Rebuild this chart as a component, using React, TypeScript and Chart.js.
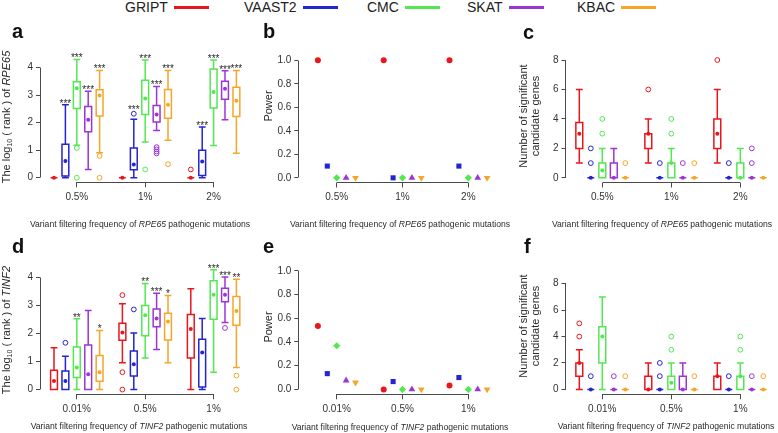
import React, { useEffect, useRef } from 'react';
import { Chart, registerables } from 'chart.js';

Chart.register(...registerables);

const FONT = '"Liberation Sans", Arial, Helvetica, sans-serif';
const AXIS_COLOR = '#4a4a4a';
const TEXT_COLOR = '#2a2a2a';

// ---------- categories / legend ----------
const METHODS = ['GRIPT', 'VAAST2', 'CMC', 'SKAT', 'KBAC'];
const COLORS = ['#e8161d', '#2424d0', '#52e852', '#9b35d6', '#f5a629'];
const RPE65_FREQS = ['0.5%', '1%', '2%'];
const TINF2_FREQS = ['0.01%', '0.5%', '1%'];

// ---------- tick labels ----------
const RANK_TICKS = [0, 1, 2, 3, 4];
const POWER_TICKS = [0, 0.2, 0.4, 0.6, 0.8, 1.0];
const COUNT_TICKS = [0, 2, 4, 6, 8];

// Box stats: [min whisker, Q1, median, Q3, max whisker] per frequency group
// ---------- Panel a: log10(rank) of RPE65 ----------
const aGRIPT = [[0, 0, 0, 0, 0], [0, 0, 0, 0, 0], [0, 0, 0, 0, 0]];
const aVAAST2 = [[0, 0.06, 0.61, 1.21, 2.65], [0, 0.29, 0.48, 1.08, 2.12], [0, 0.08, 0.59, 1.0, 1.84]];
const aCMC = [[1.18, 2.51, 3.25, 3.48, 4.29], [1.3, 2.29, 2.87, 3.54, 4.27], [1.17, 2.53, 3.11, 3.94, 4.27]];
const aSKAT = [[0.3, 1.67, 2.1, 2.58, 3.14], [1.71, 2.02, 2.29, 2.62, 3.31], [2.1, 2.85, 3.23, 3.5, 3.88]];
const aKBAC = [[0.91, 2.24, 2.98, 3.19, 3.89], [1.36, 2.16, 2.65, 3.2, 3.89], [0.89, 2.22, 2.79, 3.28, 3.89]];
const aOutGRIPT = [[], [], [0.3]];
const aOutVAAST2 = [[], [2.32], []];
const aOutCMC = [[1.08, 0], [0.3], []];
const aOutSKAT = [[], [1.11, 1.03, 0.95, 0.88], []];
const aOutKBAC = [[0.79, 0], [0.49], []];
const aStars = [
  ['', '***', '***', '***', '***'],
  ['', '***', '***', '***', '***'],
  ['', '***', '***', '***', '***'],
];

// ---------- Panel d: log10(rank) of TINF2 ----------
const dGRIPT = [[0, 0, 0.31, 0.69, 1.49], [0.96, 1.76, 2.04, 2.37, 3.06], [0, 1.13, 2.16, 2.68, 3.6]];
const dVAAST2 = [[0, 0, 0.31, 0.66, 1.19], [0, 0.48, 0.9, 1.38, 2.02], [0, 0.09, 1.32, 1.8, 2.54]];
const dCMC = [[0, 0.43, 0.79, 1.52, 2.53], [1.13, 1.92, 2.65, 3.0, 3.79], [0.62, 2.51, 3.38, 3.88, 4.28]];
const dSKAT = [[0, 0, 0.55, 1.59, 2.82], [1.43, 2.24, 2.54, 2.88, 3.44], [2.39, 3.13, 3.38, 3.62, 4.02]];
const dKBAC = [[0, 0.3, 0.62, 1.22, 2.11], [0.96, 1.77, 2.43, 2.72, 3.36], [0.79, 2.3, 2.8, 3.32, 3.94]];
const dOutGRIPT = [[], [3.37, 0.62, 0], []];
const dOutVAAST2 = [[1.67], [2.86], []];
const dOutCMC = [[], [], []];
const dOutSKAT = [[], [], [2.2]];
const dOutKBAC = [[], [], [0.5, 0]];
const dStars = [
  ['', '', '**', '', '*'],
  ['', '', '**', '***', '*'],
  ['', '', '***', '***', '**'],
];

// ---------- Panel c: number of significant candidate genes (RPE65) ----------
const cGRIPT = [[1, 2, 3, 3.75, 6], [1, 2, 3, 3, 4], [1, 2, 3, 4, 6]];
const cVAAST2 = [[0, 0, 0, 0, 0], [0, 0, 0, 0, 0], [0, 0, 0, 0, 0]];
const cCMC = [[0, 0, 0.5, 1, 2], [0, 0, 1, 1, 2], [0, 0, 0, 1, 2]];
const cSKAT = [[0, 0, 0, 1, 2], [0, 0, 0, 0, 0], [0, 0, 0, 0, 0]];
const cKBAC = [[0, 0, 0, 0, 0], [0, 0, 0, 0, 0], [0, 0, 0, 0, 0]];
const cOutGRIPT = [[], [6], [8]];
const cOutVAAST2 = [[1, 2], [1], [1]];
const cOutCMC = [[3, 4], [3, 4], []];
const cOutSKAT = [[], [1], [1, 2]];
const cOutKBAC = [[1], [1], []];

// ---------- Panel f: number of significant candidate genes (TINF2) ----------
const fGRIPT = [[0, 1, 2, 2, 3], [0, 0, 0, 1, 2], [0, 0, 1, 1, 2]];
const fVAAST2 = [[0, 0, 0, 0, 0], [0, 0, 0, 0, 0], [0, 0, 0, 0, 0]];
const fCMC = [[0, 2, 4, 4.75, 7], [0, 0, 0.5, 1, 2], [0, 0, 1, 1, 2]];
const fSKAT = [[0, 0, 0, 0, 0], [0, 0, 0, 1, 2], [0, 0, 0, 0, 0]];
const fKBAC = [[0, 0, 0, 0, 0], [0, 0, 0, 0, 0], [0, 0, 0, 0, 0]];
const fOutGRIPT = [[4, 5], [], []];
const fOutVAAST2 = [[1], [1, 2], [1]];
const fOutCMC = [[], [3, 4], [3, 4]];
const fOutSKAT = [[1], [], [1]];
const fOutKBAC = [[1], [1], [1]];

// ---------- Panels b / e: power (rows = methods, cols = frequency groups) ----------
const powerRPE65 = [
  [1.0, 1.0, 1.0],
  [0.1, 0.0, 0.1],
  [0.0, 0.0, 0.0],
  [0.0, 0.0, 0.0],
  [0.0, 0.0, 0.0],
];
const powerTINF2 = [
  [0.535, 0.0, 0.033],
  [0.133, 0.066, 0.1],
  [0.368, 0.0, 0.0],
  [0.075, 0.0, 0.0],
  [0.058, 0.0, 0.0],
];

// ---------- marker styles ----------
const SHAPES = ['circle', 'rect', 'rectRot', 'triangle', 'triangle'];
const ROTATIONS = [0, 0, 0, 0, 180];
const SHAPE_RADIUS = [3, 3.6, 3.6, 3.9, 3.9];

// ---------- panel layout (page pixels) ----------
const GEOM = {
  a: { cl: 0, ct: 40, cw: 252, ch: 172, yAxisX: 40, xAxisY: 182.3, areaTop: 45, areaRight: 248, zeroY: 177.6, unitY: 28.4, firstPx: 76.8, firstV: 2, unitX: 11.4 },
  d: { cl: 0, ct: 255, cw: 252, ch: 170, yAxisX: 40, xAxisY: 394.3, areaTop: 262, areaRight: 248, zeroY: 389.5, unitY: 28.45, firstPx: 76.8, firstV: 2, unitX: 11.4 },
  b: { cl: 255, ct: 40, cw: 250, ch: 172, yAxisX: 298.3, xAxisY: 182.5, areaTop: 45, areaRight: 500, zeroY: 177.7, unitY: 121, firstPx: 336.7, firstV: 3, unitX: 9.4 },
  e: { cl: 255, ct: 255, cw: 250, ch: 170, yAxisX: 298.3, xAxisY: 394.3, areaTop: 262, areaRight: 500, zeroY: 389.3, unitY: 120.3, firstPx: 336.7, firstV: 3, unitX: 9.4 },
  c: { cl: 512, ct: 40, cw: 266, ch: 172, yAxisX: 565.5, xAxisY: 182.5, areaTop: 45, areaRight: 774, zeroY: 177.7, unitY: 15.17, firstPx: 602.3, firstV: 2, unitX: 11.5 },
  f: { cl: 512, ct: 255, cw: 266, ch: 170, yAxisX: 565.5, xAxisY: 394.3, areaTop: 262, areaRight: 774, zeroY: 389.3, unitY: 13.41, firstPx: 602.3, firstV: 2, unitX: 11.5 },
};

const fmtInt = (v) => String(Math.round(v));
const fmt1 = (v) => Number(v).toFixed(1);

const PANELS = [
  { id: 'a', kind: 'box', span: 6, xTicks: [2, 8, 14], xLabels: RPE65_FREQS, yTicks: RANK_TICKS, yFmt: fmtInt,
    boxes: [aGRIPT, aVAAST2, aCMC, aSKAT, aKBAC], outliers: [aOutGRIPT, aOutVAAST2, aOutCMC, aOutSKAT, aOutKBAC], stars: aStars },
  { id: 'b', kind: 'power', span: 7, xTicks: [3, 10, 17], xLabels: RPE65_FREQS, yTicks: POWER_TICKS, yFmt: fmt1, power: powerRPE65 },
  { id: 'c', kind: 'box', span: 6, xTicks: [2, 8, 14], xLabels: RPE65_FREQS, yTicks: COUNT_TICKS, yFmt: fmtInt,
    boxes: [cGRIPT, cVAAST2, cCMC, cSKAT, cKBAC], outliers: [cOutGRIPT, cOutVAAST2, cOutCMC, cOutSKAT, cOutKBAC] },
  { id: 'd', kind: 'box', span: 6, xTicks: [2, 8, 14], xLabels: TINF2_FREQS, yTicks: RANK_TICKS, yFmt: fmtInt,
    boxes: [dGRIPT, dVAAST2, dCMC, dSKAT, dKBAC], outliers: [dOutGRIPT, dOutVAAST2, dOutCMC, dOutSKAT, dOutKBAC], stars: dStars },
  { id: 'e', kind: 'power', span: 7, xTicks: [3, 10, 17], xLabels: TINF2_FREQS, yTicks: POWER_TICKS, yFmt: fmt1, power: powerTINF2 },
  { id: 'f', kind: 'box', span: 6, xTicks: [2, 8, 14], xLabels: TINF2_FREQS, yTicks: COUNT_TICKS, yFmt: fmtInt,
    boxes: [fGRIPT, fVAAST2, fCMC, fSKAT, fKBAC], outliers: [fOutGRIPT, fOutVAAST2, fOutCMC, fOutSKAT, fOutKBAC] },
];

function buildChart(canvas, spec) {
  const g = GEOM[spec.id];
  const YW = g.yAxisX - g.cl;
  const XH = g.ct + g.ch - g.xAxisY;
  const padTop = g.areaTop - g.ct;
  const padRight = g.cl + g.cw - g.areaRight;
  const xmin = g.firstV + (g.yAxisX - g.firstPx) / g.unitX;
  const xmax = g.firstV + (g.areaRight - g.firstPx) / g.unitX;
  const ymin = -(g.xAxisY - g.zeroY) / g.unitY;
  const ymax = (g.zeroY - g.areaTop) / g.unitY;

  const datasets = [];
  if (spec.kind === 'box') {
    spec.boxes.forEach((groups, k) => {
      datasets.push({
        label: METHODS[k] + ' median',
        data: groups.map((b, gi) => ({ x: gi * spec.span + k, y: b[2] })),
        pointStyle: 'circle', pointRadius: 2, backgroundColor: COLORS[k], borderColor: COLORS[k], borderWidth: 0, clip: false,
      });
      datasets.push({
        label: METHODS[k] + ' outliers',
        data: spec.outliers[k].flatMap((vals, gi) => vals.map((v) => ({ x: gi * spec.span + k, y: v }))),
        pointStyle: 'circle', pointRadius: 2.4, backgroundColor: 'rgba(0,0,0,0)', borderColor: COLORS[k], borderWidth: 1, clip: false,
      });
    });
  } else {
    spec.power.forEach((vals, k) => {
      datasets.push({
        label: METHODS[k],
        data: vals.map((v, gi) => ({ x: gi * spec.span + k + 1, y: v })),
        pointStyle: SHAPES[k], pointRotation: ROTATIONS[k], pointRadius: SHAPE_RADIUS[k],
        backgroundColor: COLORS[k], borderColor: COLORS[k], borderWidth: 0, clip: false,
      });
    });
  }

  const al = (p) => Math.round(p - 0.5) + 0.5;

  const plugin = {
    id: 'rStyle' + spec.id,
    beforeDatasetsDraw(chart) {
      const ctx = chart.ctx;
      const ca = chart.chartArea;
      const xs = chart.scales.x;
      const ys = chart.scales.y;
      ctx.save();
      ctx.strokeStyle = AXIS_COLOR;
      ctx.lineWidth = 1;
      ctx.beginPath();
      const ax = al(ca.left);
      ctx.moveTo(ax, al(ys.getPixelForValue(spec.yTicks[0])));
      ctx.lineTo(ax, al(ys.getPixelForValue(spec.yTicks[spec.yTicks.length - 1])));
      const ay = al(ca.bottom);
      ctx.moveTo(al(xs.getPixelForValue(spec.xTicks[0])), ay);
      ctx.lineTo(al(xs.getPixelForValue(spec.xTicks[spec.xTicks.length - 1])), ay);
      ctx.stroke();

      if (spec.kind === 'box') {
        ctx.lineWidth = 1.5;
        spec.boxes.forEach((groups, k) => {
          ctx.strokeStyle = COLORS[k];
          groups.forEach((b, gi) => {
            const xv = gi * spec.span + k;
            const xc = xs.getPixelForValue(xv);
            const hw = (xs.getPixelForValue(xv + 0.3) - xs.getPixelForValue(xv - 0.3)) / 2;
            const mn = ys.getPixelForValue(b[0]);
            const q1 = ys.getPixelForValue(b[1]);
            const q3 = ys.getPixelForValue(b[3]);
            const mx = ys.getPixelForValue(b[4]);
            ctx.beginPath();
            ctx.moveTo(xc, q1); ctx.lineTo(xc, mn);
            ctx.moveTo(xc - hw, mn); ctx.lineTo(xc + hw, mn);
            ctx.moveTo(xc, q3); ctx.lineTo(xc, mx);
            ctx.moveTo(xc - hw, mx); ctx.lineTo(xc + hw, mx);
            ctx.rect(xc - hw, q3, 2 * hw, q1 - q3);
            ctx.stroke();
          });
        });
      }
      ctx.restore();
    },
    afterDatasetsDraw(chart) {
      if (!spec.stars) return;
      const ctx = chart.ctx;
      const xs = chart.scales.x;
      const ys = chart.scales.y;
      ctx.save();
      ctx.font = '10px ' + FONT;
      ctx.fillStyle = TEXT_COLOR;
      ctx.textAlign = 'center';
      ctx.textBaseline = 'alphabetic';
      spec.stars.forEach((row, gi) => row.forEach((s, k) => {
        if (!s) return;
        const b = spec.boxes[k][gi];
        const outs = spec.outliers[k][gi];
        const topOut = outs.length ? Math.max(...outs) : -Infinity;
        const top = Math.max(b[4], topOut);
        const extra = topOut > b[4] ? 2.5 : 0;
        ctx.fillText(s, xs.getPixelForValue(gi * spec.span + k), ys.getPixelForValue(top) - extra + 2);
      }));
      ctx.restore();
    },
  };

  return new Chart(canvas, {
    type: 'scatter',
    data: { datasets },
    plugins: [plugin],
    options: {
      animation: false,
      responsive: false,
      events: [],
      layout: { padding: { left: 0, top: padTop, right: padRight, bottom: 0 }, autoPadding: false },
      plugins: { legend: { display: false }, tooltip: { enabled: false }, title: { display: false } },
      scales: {
        x: {
          type: 'linear', min: xmin, max: xmax, bounds: 'data',
          afterBuildTicks: (s) => { s.ticks = spec.xTicks.map((v) => ({ value: v })); },
          afterFit: (s) => { s.height = XH; },
          ticks: {
            callback: (v, i) => spec.xLabels[i],
            font: { family: FONT, size: 10 }, color: '#333', padding: 4, maxRotation: 0, minRotation: 0, autoSkip: false,
          },
          grid: { drawOnChartArea: false, drawTicks: true, tickLength: 5, color: AXIS_COLOR, lineWidth: 1 },
          border: { display: false },
        },
        y: {
          type: 'linear', min: ymin, max: ymax, bounds: 'data',
          afterBuildTicks: (s) => { s.ticks = spec.yTicks.map((v) => ({ value: v })); },
          afterFit: (s) => { s.width = YW; },
          ticks: {
            callback: (v, i) => spec.yFmt(spec.yTicks[i]),
            font: { family: FONT, size: 10 }, color: '#333', padding: 3, autoSkip: false,
          },
          grid: { drawOnChartArea: false, drawTicks: true, tickLength: 4, color: AXIS_COLOR, lineWidth: 1 },
          border: { display: false },
        },
      },
    },
  });
}

function PanelCanvas({ spec }) {
  const ref = useRef(null);
  const g = GEOM[spec.id];
  useEffect(() => {
    const chart = buildChart(ref.current, spec);
    return () => chart.destroy();
  }, []);
  return (
    <canvas
      ref={ref}
      width={g.cw}
      height={g.ch}
      style={{ position: 'absolute', left: g.cl, top: g.ct, width: g.cw, height: g.ch }}
    />
  );
}

const LEGEND_X = [125, 244, 367, 467, 577];
const LETTERS = [
  { t: 'a', x: 12, y: 21 }, { t: 'b', x: 263, y: 21 }, { t: 'c', x: 523, y: 22 },
  { t: 'd', x: 12, y: 236 }, { t: 'e', x: 263, y: 236 }, { t: 'f', x: 524, y: 236 },
];

const rotStyle = (x, y) => ({
  position: 'absolute', left: x, top: y, transform: 'translate(-50%, -50%) rotate(-90deg)',
  whiteSpace: 'nowrap', fontSize: 11, lineHeight: '12px', color: TEXT_COLOR, textAlign: 'center',
});
const xTitleStyle = (x, y) => ({
  position: 'absolute', left: x, top: y, transform: 'translate(-50%, -50%)',
  whiteSpace: 'nowrap', fontSize: 8.6, lineHeight: '10px', color: TEXT_COLOR,
});
const subStyle = { fontSize: 7, verticalAlign: '-2px', lineHeight: 0 };

export default function App() {
  return (
    <div style={{ position: 'absolute', left: 0, top: 0, width: 778, height: 433, background: '#fff', overflow: 'hidden', fontFamily: FONT }}>
      {PANELS.map((p) => <PanelCanvas key={p.id} spec={p} />)}

      {METHODS.map((m, i) => (
        <div key={m} style={{ position: 'absolute', left: LEGEND_X[i], top: 0, height: 15, display: 'flex', alignItems: 'center', fontSize: 14, color: '#222', whiteSpace: 'nowrap' }}>
          <span style={{ lineHeight: '15px' }}>{m}</span>
          <span style={{ display: 'inline-block', width: 35, height: 3.5, background: COLORS[i], marginLeft: 6 }} />
        </div>
      ))}

      {LETTERS.map((l) => (
        <div key={l.t} style={{ position: 'absolute', left: l.x, top: l.y, fontSize: 20, lineHeight: '20px', fontWeight: 'bold', color: '#111' }}>{l.t}</div>
      ))}

      <div style={rotStyle(6, 117)}>The log<sub style={subStyle}>10</sub> ( rank ) of <i>RPE65</i></div>
      <div style={rotStyle(6, 330)}>The log<sub style={subStyle}>10</sub> ( rank ) of <i>TINF2</i></div>
      <div style={rotStyle(268, 106)}>Power</div>
      <div style={rotStyle(268, 327)}>Power</div>
      <div style={rotStyle(529, 116)}>Number of significant<br />candidate genes</div>
      <div style={rotStyle(529, 326)}>Number of significant<br />candidate genes</div>

      <div style={xTitleStyle(140, 224)}>Variant filtering frequency of <i>RPE65</i> pathogenic mutations</div>
      <div style={xTitleStyle(400, 224)}>Variant filtering frequency of <i>RPE65</i> pathogenic mutations</div>
      <div style={xTitleStyle(662, 224)}>Variant filtering frequency of <i>RPE65</i> pathogenic mutations</div>
      <div style={xTitleStyle(139, 426)}>Variant filtering frequency of <i>TINF2</i> pathogenic mutations</div>
      <div style={xTitleStyle(400, 427)}>Variant filtering frequency of <i>TINF2</i> pathogenic mutations</div>
      <div style={xTitleStyle(666, 426)}>Variant filtering frequency of <i>TINF2</i> pathogenic mutations</div>
    </div>
  );
}
